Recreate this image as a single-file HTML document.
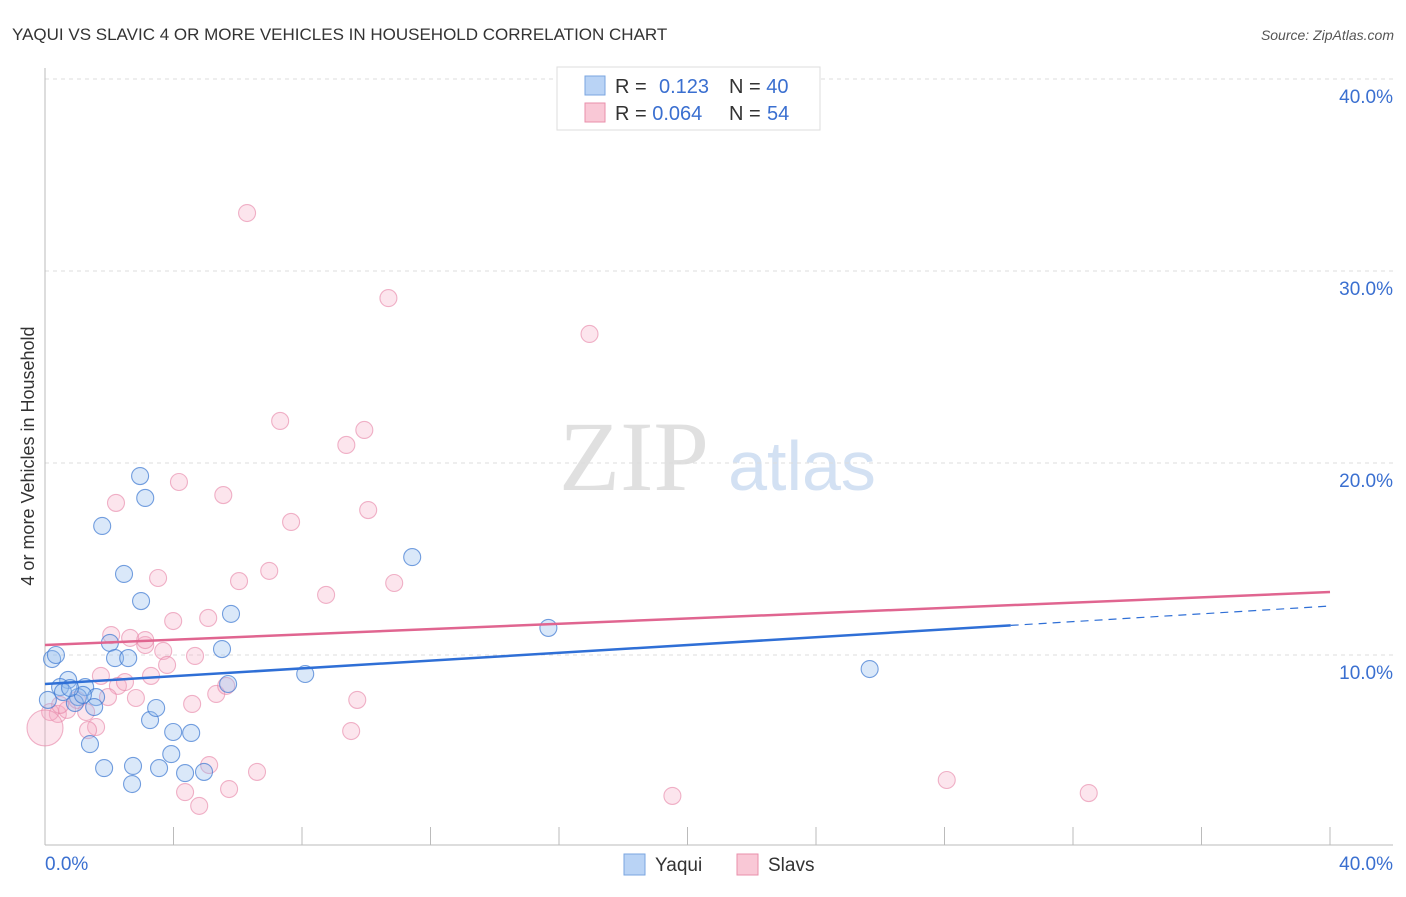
<!DOCTYPE html>
<html><head><meta charset="utf-8"><style>
body{margin:0;background:#fff;font-family:"Liberation Sans",sans-serif}
svg text{font-family:"Liberation Sans",sans-serif}
</style></head><body>
<svg id="c" width="1406" height="892">
<text x="12" y="40" font-size="17" fill="#333">YAQUI VS SLAVIC 4 OR MORE VEHICLES IN HOUSEHOLD CORRELATION CHART</text>
<text x="1394" y="40" font-size="14" fill="#555" font-style="italic" text-anchor="end">Source: ZipAtlas.com</text>
<text x="634" y="490" font-size="100" fill="#e0e0e0" style="font-family:'Liberation Serif',serif" text-anchor="middle">ZIP</text>
<text x="802" y="490" font-size="70" fill="#d3e1f3" text-anchor="middle">atlas</text>
<text transform="translate(34,456) rotate(-90)" font-size="18" fill="#333" text-anchor="middle">4 or more Vehicles in Household</text>
<g id="grid"></g><g id="marks"></g>
<rect x="557" y="67" width="263" height="63" fill="#fff" stroke="#ddd"/>
<rect x="585" y="76" width="20" height="19" fill="#b9d3f5" stroke="#7aa6e0"/>
<rect x="585" y="103" width="20" height="19" fill="#f9c8d6" stroke="#e98fab"/>
<text x="615" y="93" font-size="20" fill="#333">R = <tspan x="659" fill="#3a6fd0">0.123</tspan><tspan x="729" fill="#333">N = </tspan><tspan fill="#3a6fd0">40</tspan></text>
<text x="615" y="120" font-size="20" fill="#333">R = <tspan fill="#3a6fd0">0.064</tspan><tspan x="729" fill="#333">N = </tspan><tspan x="767" fill="#3a6fd0">54</tspan></text>
<rect x="624" y="854" width="21" height="21" fill="#b9d3f5" stroke="#7aa6e0"/>
<text x="655" y="871" font-size="19" fill="#333">Yaqui</text>
<rect x="737" y="854" width="21" height="21" fill="#f9c8d6" stroke="#e98fab"/>
<text x="768" y="871" font-size="19" fill="#333">Slavs</text>
</svg>
<script>
const yTicks=[10,20,30,40];
const yTickLabels=["10.0%","20.0%","30.0%","40.0%"];
const xEnds=[0,40];
const xEndLabels=["0.0%","40.0%"];
const yaquiX=[2.96,3.12,1.78,2.46,2.99,5.79,11.43,15.67,25.67,5.51,2.02,2.18,2.59,0.22,0.34,0.72,0.47,1.25,1.03,1.59,0.93,1.53,5.70,8.10,3.27,3.46,1.40,3.99,4.55,1.84,2.74,3.55,3.93,4.36,4.95,2.71,0.56,0.09,1.18,0.78];
const yaquiY=[19.32,18.18,16.72,14.22,12.81,12.14,15.10,11.41,9.27,10.31,10.63,9.84,9.84,9.79,10.0,8.70,8.33,8.33,7.81,7.81,7.5,7.29,8.49,9.01,6.61,7.24,5.36,5.99,5.94,4.11,4.22,4.11,4.84,3.85,3.91,3.28,8.07,7.66,7.92,8.28];
const slavsX=[6.29,10.69,16.95,7.32,9.94,9.38,4.17,2.21,5.55,10.06,7.66,6.98,6.04,3.52,10.87,8.75,3.99,5.08,2.06,2.65,3.12,3.68,4.67,3.80,1.74,2.27,2.49,3.30,1.96,2.83,5.33,4.58,9.72,5.64,1.28,0.40,0.69,0.16,1.59,1.34,9.53,5.11,6.60,5.73,4.36,4.80,28.07,32.49,19.53,3.12,1.00,0.47,0.0];
const slavsY=[33.02,28.59,26.72,22.19,21.72,20.94,19.01,17.92,18.33,17.55,16.93,14.38,13.85,14.01,13.75,13.13,11.77,11.93,11.04,10.89,10.52,10.21,9.95,9.48,8.91,8.39,8.59,8.91,7.81,7.76,7.97,7.45,7.66,8.39,7.03,6.93,7.14,7.03,6.25,6.09,6.04,4.27,3.91,3.02,2.86,2.14,3.49,2.81,2.66,10.78,7.66,7.40,6.2];
const slavsBig=[52];
const yaquiTrend=[8.49,12.55];
const yaquiSolidEnd=30.06;
const slavsTrend=[10.52,13.28];

const NS="http://www.w3.org/2000/svg";
const X=v=>45+v*32.125, Y=v=>847-v*19.2;
function mk(tag,attrs,parent){const e=document.createElementNS(NS,tag);for(const k in attrs)e.setAttribute(k,attrs[k]);parent.appendChild(e);return e;}
const grid=document.getElementById('grid'), marks=document.getElementById('marks');
yTicks.forEach((t,i)=>{
  const l=mk('line',{x1:45,x2:1393,y1:Y(t),y2:Y(t),stroke:'#ddd','stroke-dasharray':'4,4'},grid);
  
  
  const tx=mk('text',{x:1393,y:Y(t)+24,'font-size':19,fill:'#3a6fd0','text-anchor':'end'},grid);
  tx.textContent=yTickLabels[i];
  
  
});
const ya=mk('line',{x1:45,x2:45,y1:68,y2:845,stroke:'#bbb'},grid);


const xa=mk('line',{x1:45,x2:1393,y1:845,y2:845,stroke:'#bbb'},grid);


for(let v=4;v<=40;v+=4){
  const tk=mk('line',{x1:X(v),x2:X(v),y1:827,y2:845,stroke:'#bbb'},grid);
  
  
}
xEnds.forEach((v,i)=>{
  const tx=mk('text',{x:i?1393:45,y:870,'font-size':19,fill:'#3a6fd0','text-anchor':i?'end':'start'},grid);
  tx.textContent=xEndLabels[i];
  
  
});
slavsX.forEach((v,i)=>{
  const c=mk('circle',{cx:X(v),cy:Y(slavsY[i]),r:slavsBig.includes(i)?18:8.5,fill:'rgba(245,170,195,0.3)',stroke:'rgba(230,130,165,0.6)','stroke-width':1.1},marks);
  
  
});
yaquiX.forEach((v,i)=>{
  const c=mk('circle',{cx:X(v),cy:Y(yaquiY[i]),r:8.5,fill:'rgba(150,188,238,0.35)',stroke:'rgba(60,120,210,0.7)','stroke-width':1.1},marks);
  
  
});
const ty=v=>yaquiTrend[0]+(yaquiTrend[1]-yaquiTrend[0])*v/40;
const l1=mk('line',{x1:X(0),y1:Y(ty(0)),x2:X(yaquiSolidEnd),y2:Y(ty(yaquiSolidEnd)),stroke:'#2f6fd6','stroke-width':2.5},marks);


const l2=mk('line',{x1:X(yaquiSolidEnd),y1:Y(ty(yaquiSolidEnd)),x2:X(40),y2:Y(ty(40)),stroke:'#2f6fd6','stroke-width':1.2,'stroke-dasharray':'8,6'},marks);


const l3=mk('line',{x1:X(0),y1:Y(slavsTrend[0]),x2:X(40),y2:Y(slavsTrend[1]),stroke:'#e06590','stroke-width':2.5},marks);


</script>
</body></html>
